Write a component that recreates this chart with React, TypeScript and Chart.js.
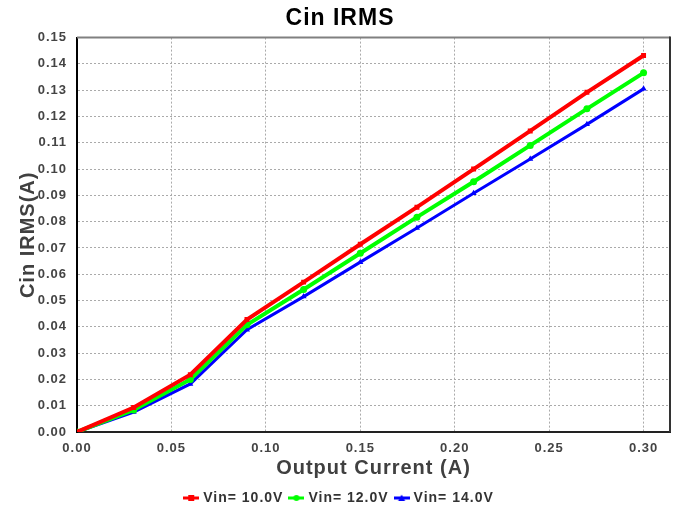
import React, { useEffect, useRef } from 'react';
import { Chart, registerables } from 'chart.js';

Chart.register(...registerables);

const outputCurrent = [0, 0.03, 0.06, 0.09, 0.12, 0.15, 0.18, 0.21, 0.24, 0.27, 0.30];
const vin10 = [0, 0.0093, 0.0218, 0.0428, 0.057, 0.0714, 0.0855, 0.1, 0.1145, 0.1292, 0.1432];
const vin12 = [0, 0.0084, 0.02, 0.0408, 0.0542, 0.068, 0.0817, 0.0952, 0.109, 0.1229, 0.1366];
const vin14 = [0, 0.0076, 0.0183, 0.0389, 0.0515, 0.0646, 0.0776, 0.0908, 0.1038, 0.117, 0.1305];
const seriesLabels = ['Vin= 10.0V', 'Vin= 12.0V', 'Vin= 14.0V'];
const seriesColors = ['#ff0000', '#00ff00', '#0000ff'];
const seriesMarkers = ['rect', 'circle', 'triangle'];
const xMin = 0;
const xMax = 0.314;
const xStep = 0.05;
const yMin = 0;
const yMax = 0.15;
const yStep = 0.01;

const FONT = "'Liberation Sans', Arial, sans-serif";

function makeLegendIcon(color: string, marker: string) {
  const c = document.createElement('canvas');
  c.width = 16;
  c.height = 8;
  const g = c.getContext('2d')!;
  g.strokeStyle = color;
  g.lineWidth = 3;
  g.beginPath();
  g.moveTo(0, 4);
  g.lineTo(16, 4);
  g.stroke();
  g.fillStyle = color;
  g.beginPath();
  if (marker === 'rect') {
    g.rect(5, 1, 6, 6);
  } else if (marker === 'circle') {
    g.arc(8, 4, 3, 0, Math.PI * 2);
  } else {
    g.moveTo(8, 0.5);
    g.lineTo(11.5, 7);
    g.lineTo(4.5, 7);
    g.closePath();
  }
  g.fill();
  return c;
}

const letterSpacingPlugin = {
  id: 'letterSpacing',
  beforeUpdate(chart: any) {
    chart.ctx.letterSpacing = '1px';
  },
};

const frameBorderPlugin = {
  id: 'frameBorder',
  beforeDatasetsDraw(chart: any) {
    const { ctx, chartArea } = chart;
    const { left, right, top, bottom } = chartArea;
    ctx.save();
    ctx.setLineDash([]);
    ctx.lineWidth = 2;
    ctx.strokeStyle = '#808080';
    ctx.beginPath();
    ctx.moveTo(left, top);
    ctx.lineTo(right, top);
    ctx.stroke();
    ctx.lineWidth = 2;
    ctx.strokeStyle = '#333';
    ctx.beginPath();
    ctx.moveTo(right, top - 1);
    ctx.lineTo(right, bottom);
    ctx.stroke();
    ctx.restore();
  },
};

export default function App() {
  const ref = useRef<HTMLCanvasElement | null>(null);

  useEffect(() => {
    const canvas = ref.current;
    if (!canvas) return;
    const icons = seriesColors.map((c, i) => makeLegendIcon(c, seriesMarkers[i]));
    const seriesValues = [vin10, vin12, vin14];
    const chart = new Chart(canvas, {
      type: 'line',
      data: {
        datasets: seriesValues.map((vals, i) => ({
          label: seriesLabels[i],
          data: vals.map((v, j) => ({ x: outputCurrent[j], y: v })),
          borderColor: seriesColors[i],
          backgroundColor: seriesColors[i],
          borderWidth: i === 2 ? 3 : 4,
          pointStyle: seriesMarkers[i] as any,
          pointRadius: 3.5,
          pointBorderWidth: 0,
          tension: 0,
          fill: false,
        })),
      },
      options: {
        responsive: false,
        animation: false,
        layout: { padding: { left: 10, right: 10, top: 0, bottom: -2 } },
        plugins: {
          title: {
            display: true,
            text: 'Cin IRMS',
            color: '#000',
            font: { family: FONT, size: 23, weight: 'bold' },
            padding: { top: 5, bottom: 5 },
          },
          legend: {
            position: 'bottom',
            labels: {
              usePointStyle: true,
              pointStyleWidth: 10,
              boxHeight: 8,
              padding: 8,
              color: '#333',
              font: { family: FONT, size: 14, weight: 'bold' },
              generateLabels: (ch: any) => {
                const items = (Chart.defaults as any).plugins.legend.labels.generateLabels(ch);
                items.forEach((it: any, i: number) => {
                  it.pointStyle = icons[i];
                });
                return items;
              },
            },
          },
          tooltip: { enabled: false },
        },
        scales: {
          x: {
            type: 'linear',
            min: xMin,
            max: xMax,
            ticks: {
              stepSize: xStep,
              includeBounds: false,
              color: '#444',
              padding: 9,
              font: { family: FONT, size: 13, weight: 'bold' },
              callback: (v: any) => Number(v).toFixed(2),
            },
            grid: { color: '#aaa', drawTicks: false, lineWidth: 1 },
            border: { color: '#222', width: 2, dash: [2, 2] },
            title: {
              display: true,
              text: 'Output Current (A)',
              color: '#404040',
              font: { family: FONT, size: 20, weight: 'bold' },
              padding: { top: 0, bottom: 3 },
            },
            afterFit: (s: any) => {
              s.height = 51;
            },
          },
          y: {
            type: 'linear',
            min: yMin,
            max: yMax,
            ticks: {
              stepSize: yStep,
              color: '#444',
              padding: 10,
              font: { family: FONT, size: 13, weight: 'bold' },
              callback: (v: any) => Number(v).toFixed(2),
            },
            grid: { color: '#aaa', drawTicks: false, lineWidth: 1 },
            border: { color: '#000', width: 2, dash: [2, 2] },
            title: {
              display: true,
              text: 'Cin IRMS(A)',
              color: '#404040',
              font: { family: FONT, size: 20, weight: 'bold' },
              padding: { top: 6, bottom: 0 },
            },
            afterFit: (s: any) => {
              s.width = 67;
            },
          },
        },
      },
      plugins: [letterSpacingPlugin, frameBorderPlugin],
    } as any);
    return () => chart.destroy();
  }, []);

  return (
    <div style={{ position: 'absolute', left: 0, top: 0, width: 680, height: 513, background: '#fff' }}>
      <canvas ref={ref} width={680} height={513} style={{ width: 680, height: 513, display: 'block' }} />
    </div>
  );
}
